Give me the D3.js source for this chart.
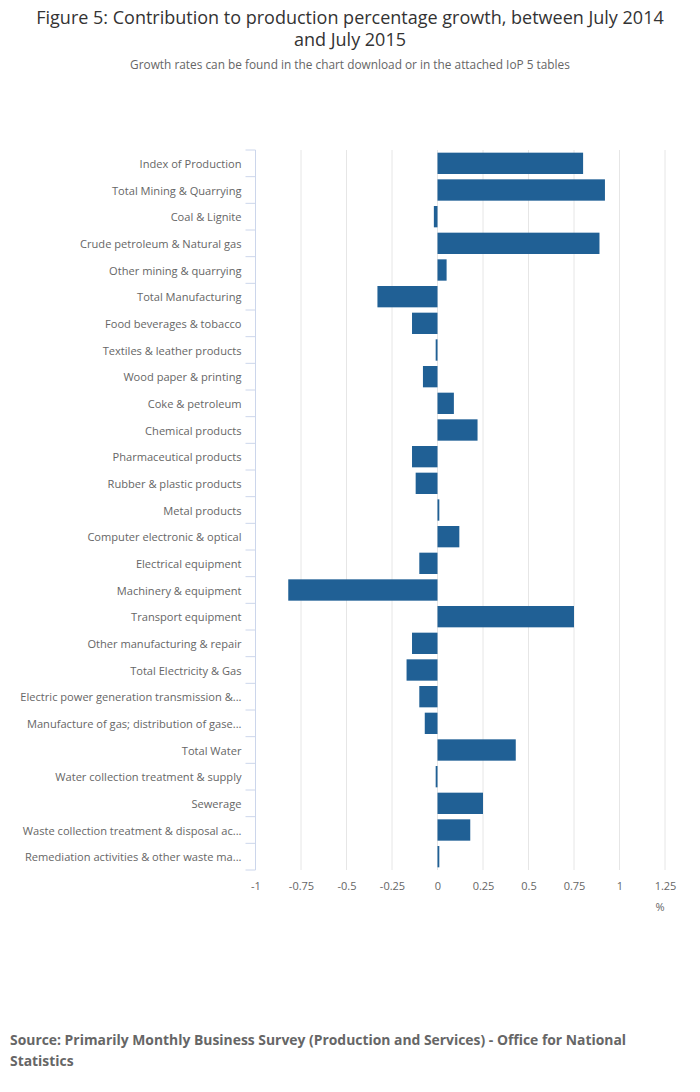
<!DOCTYPE html>
<html>
<head>
<meta charset="utf-8">
<script src="https://cdn.jsdelivr.net/npm/d3@7"></script>
<style>
  body { margin: 0; background: #fff; font-family: "Open Sans", sans-serif; }
  svg { display: block; }
</style>
</head>
<body>
<svg id="chart"></svg>
<script>
// Categories (as shown on the chart, long ones truncated)
const categories = [
    "Index of Production",
    "Total Mining & Quarrying",
    "Coal & Lignite",
    "Crude petroleum & Natural gas",
    "Other mining & quarrying",
    "Total Manufacturing",
    "Food beverages & tobacco",
    "Textiles & leather products",
    "Wood paper & printing",
    "Coke & petroleum",
    "Chemical products",
    "Pharmaceutical products",
    "Rubber & plastic products",
    "Metal products",
    "Computer electronic & optical",
    "Electrical equipment",
    "Machinery & equipment",
    "Transport equipment",
    "Other manufacturing & repair",
    "Total Electricity & Gas",
    "Electric power generation transmission &...",
    "Manufacture of gas; distribution of gase...",
    "Total Water",
    "Water collection treatment & supply",
    "Sewerage",
    "Waste collection treatment & disposal ac...",
    "Remediation activities & other waste ma..."
];

// Contribution to growth, percentage points
const values = [
    0.80, 0.92, -0.02, 0.89, 0.05, -0.33, -0.14, -0.01, -0.08, 0.09,
    0.22, -0.14, -0.12, 0.01, 0.12, -0.10, -0.82, 0.75, -0.14, -0.17,
    -0.10, -0.07, 0.43, -0.01, 0.25, 0.18, 0.01
];

const xTicks = [-1, -0.75, -0.5, -0.25, 0, 0.25, 0.5, 0.75, 1, 1.25];

const width = 700;
const height = 1092;
const margin = { top: 150, right: 35, bottom: 222, left: 255.5 };

const svg = d3.select("#chart")
    .attr("width", width)
    .attr("height", height);

// Title and subtitle
svg.append("text")
    .attr("x", width / 2).attr("y", 24)
    .attr("text-anchor", "middle")
    .style("font-size", "18px").style("fill", "#333")
    .text("Figure 5: Contribution to production percentage growth, between July 2014");
svg.append("text")
    .attr("x", width / 2).attr("y", 46)
    .attr("text-anchor", "middle")
    .style("font-size", "18px").style("fill", "#333")
    .text("and July 2015");
svg.append("text")
    .attr("x", width / 2).attr("y", 69)
    .attr("text-anchor", "middle")
    .style("font-size", "11.85px").style("fill", "#666")
    .text("Growth rates can be found in the chart download or in the attached IoP 5 tables");

// Scales
const xScale = d3.scaleLinear()
    .domain([-1, 1.25])
    .range([margin.left, width - margin.right]);

const yScale = d3.scaleBand()
    .domain(categories)
    .range([margin.top, height - margin.bottom])
    .paddingInner(0.2)
    .paddingOuter(0.1);

// Gridlines
svg.append("g")
    .selectAll("line")
    .data(xTicks.slice(1))
    .enter().append("line")
    .attr("x1", d => xScale(d)).attr("x2", d => xScale(d))
    .attr("y1", margin.top).attr("y2", height - margin.bottom)
    .attr("stroke", "#e6e6e6")
    .attr("stroke-width", 1);

// Bars
svg.append("g")
    .selectAll("rect")
    .data(values)
    .enter().append("rect")
    .attr("x", d => xScale(Math.min(0, d)))
    .attr("width", d => Math.abs(xScale(d) - xScale(0)))
    .attr("y", (d, i) => yScale(categories[i]))
    .attr("height", yScale.bandwidth())
    .attr("fill", "#206095");

// X axis
const xAxis = svg.append("g")
    .attr("transform", `translate(0, ${height - margin.bottom})`)
    .call(d3.axisBottom(xScale).tickValues(xTicks).tickSize(0).tickPadding(12)
        .tickFormat(d => String(d)));
xAxis.select(".domain").remove();
xAxis.selectAll("text")
    .style("font-family", "Open Sans, sans-serif")
    .style("font-size", "11px")
    .style("fill", "#666");

svg.append("text")
    .attr("x", xScale(1.25) - 5).attr("y", height - margin.bottom + 41)
    .attr("text-anchor", "middle")
    .style("font-size", "11px").style("fill", "#666")
    .text("%");

// Y axis
const step = yScale.step();
const yAxis = svg.append("g")
    .attr("transform", `translate(${margin.left}, 0)`)
    .call(d3.axisLeft(yScale).tickSize(0).tickPadding(14));
yAxis.select(".domain")
    .attr("stroke", "#ccd6eb")
    .attr("d", `M0,${margin.top}V${height - margin.bottom}`);
yAxis.selectAll("text")
    .attr("dy", "0.42em")
    .style("font-family", "Open Sans, sans-serif")
    .style("font-size", "11.1px")
    .style("fill", "#666");

// Category tick marks at band boundaries
yAxis.append("g")
    .selectAll("line")
    .data(d3.range(categories.length + 1))
    .enter().append("line")
    .attr("x1", -10).attr("x2", 0)
    .attr("y1", i => margin.top + i * step)
    .attr("y2", i => margin.top + i * step)
    .attr("stroke", "#ccd6eb");

// Source
svg.append("text")
    .attr("x", 10).attr("y", 1045)
    .style("font-size", "13.9px").style("font-weight", "bold").style("fill", "#666")
    .text("Source: Primarily Monthly Business Survey (Production and Services) - Office for National");
svg.append("text")
    .attr("x", 10).attr("y", 1066)
    .style("font-size", "13.9px").style("font-weight", "bold").style("fill", "#666")
    .text("Statistics");
</script>
</body>
</html>
